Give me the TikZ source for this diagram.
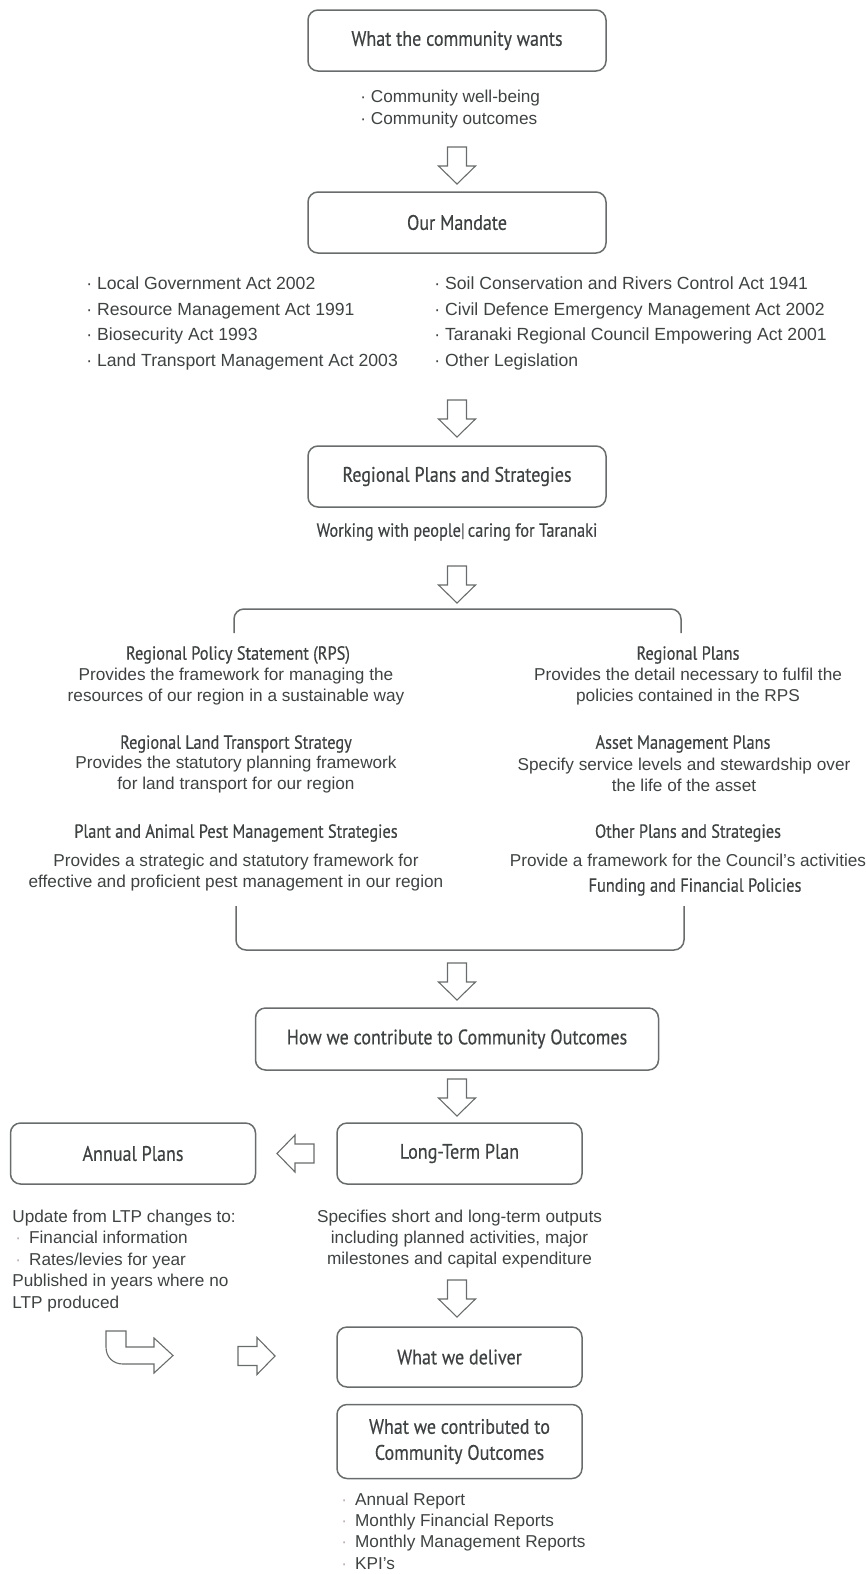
\documentclass[tikz,border=0pt]{standalone}
\usepackage{fontspec}
\setmainfont{Liberation Sans}
\newfontfamily\headfont[FakeStretch=0.86, FakeBold=0.4]{PT Sans}
\definecolor{TextGray}{RGB}{62,66,66}
\definecolor{LineGray}{RGB}{105,108,108}
\definecolor{BulletGray}{RGB}{185,172,172}
\usetikzlibrary{positioning}
\newcommand{\lbul}{{\color{BulletGray}\hspace*{1.5pt}·}\hspace{4pt}}

\begin{document}
\begin{tikzpicture}[x=0.5pt, y=-0.5pt,
      stagebox/.style={draw=LineGray, line width=0.75pt, rounded corners=5pt,
                       minimum width=149pt, minimum height=30.5pt, inner sep=2pt,
                       align=center, text=TextGray, font=\headfont\fontsize{10.5}{13}\selectfont},
      listtext/.style={text=TextGray, inner sep=0pt, align=left, font=\fontsize{8.6}{11}\selectfont},
      plantitle/.style={text=TextGray, inner sep=0pt, align=center, font=\headfont\fontsize{9.5}{11}\selectfont},
      plantext/.style={text=TextGray, inner sep=0pt, align=center, font=\fontsize{8.6}{10.5}\selectfont},
      blockline/.style={draw=LineGray, line width=0.55pt, line join=miter},
      downblock/.pic={\draw[blockline] (-9.5,0) -- (9.5,0) -- (9.5,19) -- (18.5,19) -- (0,37) -- (-18.5,19) -- (-9.5,19) -- cycle;},
      leftblock/.pic={\draw[blockline] (0,0) -- (18,-18.5) -- (18,-9.5) -- (37,-9.5) -- (37,9.5) -- (18,9.5) -- (18,18.5) -- cycle;},
      rightblock/.pic={\draw[blockline] (0,-9.5) -- (19,-9.5) -- (19,-18.5) -- (37,0) -- (19,18.5) -- (19,9.5) -- (0,9.5) -- cycle;},
      bentblock/.pic={\draw[blockline] (0,0) -- (20,0) -- (20,16) -- (48,16) -- (48,7) -- (67,24.5) -- (48,42) -- (48,33) -- (17,33) .. controls (7,33) and (0,26) .. (0,16) -- cycle;}
    ]
      \useasboundingbox (0,0) rectangle (866,1574);

      % what the community wants
      \node[stagebox] (wants) at (457,40.5) {What the community wants};
      \node[listtext, anchor=west] (wantslist) at (360,109) {· Community well-being\\· Community outcomes};
      \pic at (457,147) {downblock};

      % mandate
      \node[stagebox] (mandate) at (457,222.5) {Our Mandate};
      \node[listtext, anchor=west, font=\fontsize{8.8}{12.85}\selectfont] (actsleft) at (86,323.5)
        {· Local Government Act 2002\\· Resource Management Act 1991\\· Biosecurity Act 1993\\· Land Transport Management Act 2003};
      \node[listtext, anchor=west, font=\fontsize{8.8}{12.85}\selectfont] (actsright) at (434,323.5)
        {· Soil Conservation and Rivers Control Act 1941\\· Civil Defence Emergency Management Act 2002\\· Taranaki Regional Council Empowering Act 2001\\· Other Legislation};
      \pic at (457,400) {downblock};

      % regional plans and strategies
      \node[stagebox] (regional) at (457,476.5) {Regional Plans and Strategies};
      \node[plantitle] (motto) at (457,532) {Working with people|\hspace{1.5pt}caring for Taranaki};
      \pic at (457,566) {downblock};
      \draw[blockline, line width=0.75pt, rounded corners=5pt] (234,633) -- (234,609) -- (681,609) -- (681,633);

      \node[plantitle] (rps) at (238,655) {Regional Policy Statement (RPS)};
      \node[plantext] (rpstext) at (236,686.5) {Provides the framework for managing the\\resources of our region in a sustainable way};
      \node[plantitle] (rlts) at (236,744) {Regional Land Transport Strategy};
      \node[plantext] (rltstext) at (236,775) {Provides the statutory planning framework\\for land transport for our region};
      \node[plantitle] (pests) at (236,833) {Plant and Animal Pest Management Strategies};
      \node[plantext] (peststext) at (236,873) {Provides a strategic and statutory framework for\\effective and proficient pest management in our region};

      \node[plantitle] (rplans) at (688,655) {Regional Plans};
      \node[plantext] (rplanstext) at (688,686.5) {Provides the detail necessary to fulfil the\\policies contained in the RPS};
      \node[plantitle] (assets) at (683,744) {Asset Management Plans};
      \node[plantext] (assetstext) at (684,775) {Specify service levels and stewardship over\\the life of the asset};
      \node[plantitle] (others) at (688,833) {Other Plans and Strategies};
      \node[plantext] (otherstext) at (688,860) {Provide a framework for the Council's activities};
      \node[plantitle] (funding) at (695,887) {Funding and Financial Policies};

      \draw[blockline, line width=0.75pt, rounded corners=5pt] (236,906) -- (236,950) -- (684,950) -- (684,906);
      \pic at (457,963) {downblock};

      % contribution and long-term plan
      \node[stagebox, minimum width=201.5pt, minimum height=31pt] (contribute) at (457,1039) {How we contribute to Community Outcomes};
      \pic at (457,1079) {downblock};
      \node[stagebox, minimum width=122.5pt] (ltp) at (459.5,1153.5) {Long-Term Plan};
      \node[stagebox, minimum width=122.5pt, left=40pt of ltp] (annual) {Annual Plans};
      \pic at (277,1153.5) {leftblock};

      \node[listtext, anchor=west, font=\fontsize{8.6}{10.75}\selectfont] (annualtext) at (12,1261)
        {Update from LTP changes to:\\\lbul Financial information\\\lbul Rates/levies for year\\Published in years where no\\LTP produced};
      \node[plantext, font=\fontsize{8.6}{10.5}\selectfont] (ltptext) at (459.5,1239)
        {Specifies short and long-term outputs\\including planned activities, major\\milestones and capital expenditure};
      \pic at (457,1280) {downblock};
      \pic at (106,1331) {bentblock};
      \pic at (238,1356) {rightblock};

      % delivery and reporting
      \node[stagebox, minimum width=122.5pt, minimum height=30pt] (deliver) at (459.5,1357) {What we deliver};
      \node[stagebox, minimum width=122.5pt, minimum height=37pt, below=8pt of deliver] (contributed) {What we contributed to\\Community Outcomes};
      \node[listtext, anchor=west, font=\fontsize{8.6}{10.7}\selectfont] (reports) at (338,1531)
        {\lbul Annual Report\\\lbul Monthly Financial Reports\\\lbul Monthly Management Reports\\\lbul KPI's};
    \end{tikzpicture}
\end{document}
